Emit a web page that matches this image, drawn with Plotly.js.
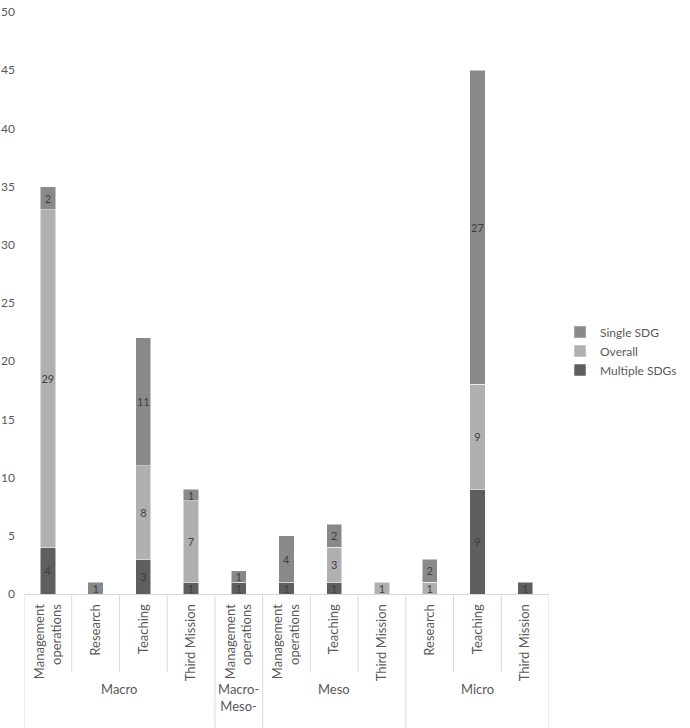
<!DOCTYPE html>
<html>
<head>
<meta charset="utf-8">
<script src="https://cdn.plot.ly/plotly-3.0.1.min.js"></script>
<style>
  html, body { margin: 0; padding: 0; background: #fff; }
  #chart { width: 690px; height: 728px; }
</style>
</head>
<body>
<div id="chart"></div>
<script>
// Stacked bars: SDG focus by level and area

const groups = ['Macro', 'Macro', 'Macro', 'Macro', 'Macro-Meso-', 'Meso', 'Meso', 'Meso', 'Micro', 'Micro', 'Micro'];
const areas = ['Management operations', 'Research', 'Teaching', 'Third Mission', 'Management operations',
    'Management operations', 'Teaching', 'Third Mission', 'Research', 'Teaching', 'Third Mission'];
const groupNames = ['Macro', 'Macro-Meso-', 'Meso', 'Micro'];

const multipleSDGs = [4, null, 3, 1, 1, 1, 1, null, null, 9, 1];
const overall = [29, null, 8, 7, null, null, 3, 1, 1, 9, null];
const singleSDG = [2, 1, 11, 1, 1, 4, 2, null, 2, 27, null];

const xPos = areas.map((_, i) => i);
const tickText = areas.map(a => a.replace(' operations', '<br>operations'));

const labelColor = '#3f3f3f';
const axisText = '#595959';
const lineColor = '#d9d9d9';

function series(name, values, color, group) {
    return {
        type: 'bar',
        name: name,
        x: xPos,
        y: values,
        legendgroup: group,
        marker: { color: color, line: { color: '#ffffff', width: 0.5 } },
        text: values.map(v => v == null ? '' : String(v)),
        textposition: 'inside',
        insidetextanchor: 'middle',
        textangle: 0,
        constraintext: 'none',
        textfont: { color: labelColor, size: 11, family: 'Lato' },
        hoverinfo: 'skip',
    };
}

const traces = [
    series('Multiple SDGs', multipleSDGs, '#5f5f5f', 'a'),
    series('Overall', overall, '#b0b0b0', 'b'),
    series('Single SDG', singleSDG, '#898989', 'c'),
];

// category box lines below the axis (Excel style multi-level axis)
const shapes = [];
const groupEdges = [];
groups.forEach((g, i) => {
    if (i === 0 || groups[i - 1] !== g) groupEdges.push(i - 0.5);
});
groupEdges.push(groups.length - 0.5);
for (let i = 0; i < groups.length - 1; i++) {
    const edge = i + 0.5;
    if (groupEdges.includes(edge)) continue;
    shapes.push({ type: 'line', xref: 'x', yref: 'paper', x0: edge, x1: edge, y0: 0, y1: -0.134,
        line: { color: lineColor, width: 1 } });
}
groupEdges.forEach(edge => {
    shapes.push({ type: 'line', xref: 'x', yref: 'paper', x0: edge, x1: edge, y0: 0, y1: -0.25,
        line: { color: lineColor, width: 1 } });
});

const annotations = groupNames.map(g => {
    const idx = xPos.filter(i => groups[i] === g);
    const mid = (idx[0] + idx[idx.length - 1]) / 2;
    return {
        xref: 'x', yref: 'paper', x: mid, y: -0.146,
        yanchor: 'top', showarrow: false,
        text: g.replace('Macro-', 'Macro-<br>'),
        font: { color: axisText, size: 13, family: 'Lato' },
    };
});

const layout = {
    width: 690,
    height: 728,
    paper_bgcolor: '#ffffff',
    plot_bgcolor: '#ffffff',
    font: { family: 'Lato', color: axisText, size: 12 },
    margin: { t: 12, b: 134, l: 24, r: 141, autoexpand: false },
    barmode: 'stack',
    bargap: 0.68,
    showlegend: true,
    legend: {
        x: 1.021, xanchor: 'left', y: 0.4175, yanchor: 'middle',
        traceorder: 'reversed', tracegroupgap: 7,
        font: { size: 12, color: axisText },
        itemwidth: 30,
    },
    xaxis: {
        range: [-0.5, 10.5],
        tickvals: xPos,
        ticktext: tickText,
        tickangle: -90,
        ticks: '',
        showgrid: false,
        zeroline: false,
        showline: true,
        linecolor: lineColor,
        linewidth: 1,
        ticklabelstandoff: 4,
        tickfont: { size: 13, color: axisText },
    },
    yaxis: {
        range: [0, 50],
        dtick: 5,
        ticks: '',
        showgrid: false,
        zeroline: false,
        showline: false,
        ticklabelstandoff: 8,
        tickfont: { size: 12, color: axisText },
    },
    shapes: shapes,
    annotations: annotations,
};

Plotly.newPlot('chart', traces, layout, { displayModeBar: false, responsive: false });
</script>
</body>
</html>
